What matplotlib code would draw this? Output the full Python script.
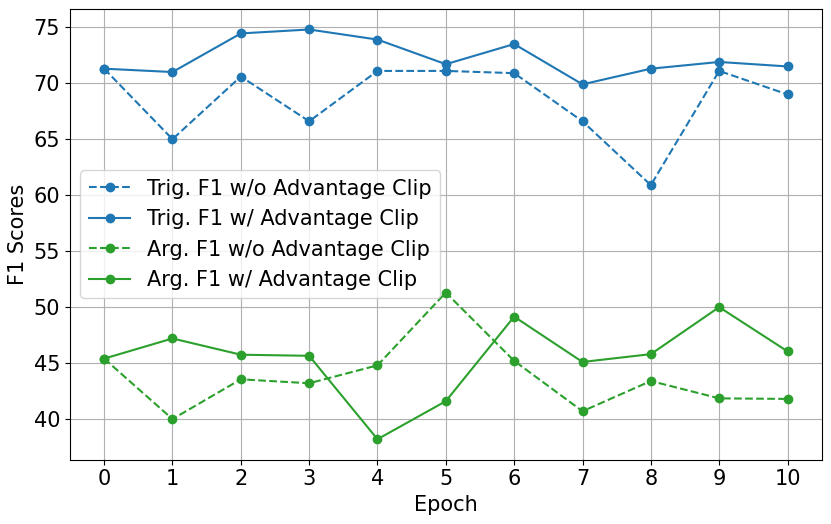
import matplotlib.pyplot as plt

epochs = list(range(11))

trig_wo_clip = [71.3, 65.0, 70.6, 66.6, 71.1, 71.1, 70.9, 66.6, 60.9, 71.1, 69.0]
trig_w_clip = [71.3, 71.0, 74.45, 74.8, 73.9, 71.7, 73.5, 69.9, 71.3, 71.9, 71.5]
arg_wo_clip = [45.4, 40.0, 43.55, 43.2, 44.8, 51.3, 45.2, 40.7, 43.4, 41.85, 41.8]
arg_w_clip = [45.4, 47.2, 45.75, 45.65, 38.2, 41.6, 49.15, 45.1, 45.8, 50.0, 46.05]

plt.rcParams['font.size'] = 15

fig, ax = plt.subplots(figsize=(8.31, 5.24), dpi=100)

ax.plot(epochs, trig_wo_clip, 'o--', color='#1f77b4', label='Trig. F1 w/o Advantage Clip')
ax.plot(epochs, trig_w_clip, 'o-', color='#1f77b4', label='Trig. F1 w/ Advantage Clip')
ax.plot(epochs, arg_wo_clip, 'o--', color='#2ca02c', label='Arg. F1 w/o Advantage Clip')
ax.plot(epochs, arg_w_clip, 'o-', color='#2ca02c', label='Arg. F1 w/ Advantage Clip')

ax.set_xticks(epochs)
ax.set_xlabel('Epoch')
ax.set_ylabel('F1 Scores')
ax.grid(True)
ax.legend(loc='center left')

fig.subplots_adjust(left=0.0842, right=0.9888, bottom=0.1227, top=0.9828)
fig.savefig('out.png')
